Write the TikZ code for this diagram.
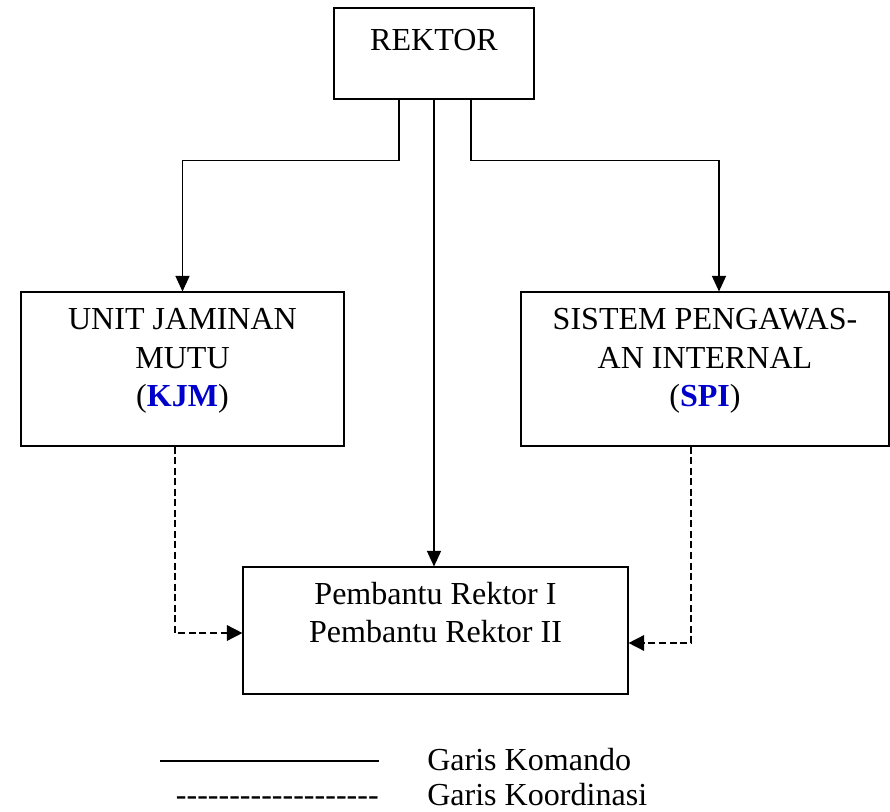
\documentclass[tikz,border=0pt]{standalone}
\usepackage{fontspec}
\setmainfont{Liberation Serif}
\usetikzlibrary{arrows.meta,calc}
\definecolor{singkatan}{RGB}{0,0,204}
\newcommand\sk[1]{\textbf{\color{singkatan}#1}}
\newcommand\garistanda{\foreach \i in {1,...,19}{\mbox{-}}}
\tikzset{
  kotak/.style={draw, line width=.8pt, inner sep=0pt},
  teks/.style={font=\fontsize{22.8}{27.3}\selectfont, align=center,
    inner sep=0pt, anchor=base},
  komando/.style={line width=.8pt, -{Triangle[length=11pt,width=10pt]}},
  koordinasi/.style={line width=1.1pt, dash pattern=on 5pt off 2.5pt,
    -{Triangle[length=11pt,width=11pt]}}
}
\begin{document}
\begin{tikzpicture}
  \useasboundingbox (0,0) rectangle (22.25,-20.3);

  \node[kotak, minimum width=5cm, minimum height=2.275cm]
    at (10.85,-1.3375) (rektor) {};
  \node[teks] at ([yshift=-1.075cm]rektor.north) (rektortxt) {REKTOR};

  \node[kotak, minimum width=8.075cm, minimum height=3.85cm]
    at (4.5625,-9.225) (ujm) {};
  \node[teks] at ([yshift=-2.875cm]ujm.north) (ujmtxt)
    {UNIT JAMINAN\\MUTU\\(\sk{KJM})};

  \node[kotak, minimum width=9.2cm, minimum height=3.85cm]
    at (17.625,-9.225) (spi) {};
  \node[teks] at ([yshift=-2.875cm]spi.north) (spitxt)
    {SISTEM PENGAWAS-\\AN INTERNAL\\(\sk{SPI})};

  \node[kotak, minimum width=9.625cm, minimum height=3.175cm]
    at (10.8875,-15.7625) (pr) {};
  \node[teks] at ([yshift=-1.9cm]pr.north) (prtxt)
    {Pembantu Rektor I\\Pembantu Rektor II};

  % garis komando
  \draw[komando] ([xshift=-.875cm]rektor.south) -- ++(0,-1.525) -| (ujm.north);
  \draw[komando] ([xshift=.925cm]rektor.south) -- ++(0,-1.525)
    -| ([xshift=.35cm]spi.north);
  \draw[komando] (rektor.south) -- (rektor.south |- pr.north);

  % garis koordinasi
  \draw[koordinasi] ([xshift=-.1875cm]ujm.south) |- ([yshift=-.0625cm]pr.west);
  \draw[koordinasi] ([xshift=-.35cm]spi.south) |- ([yshift=-.3125cm]pr.east);

  % keterangan
  \coordinate (kom1) at (4.0,-19.025);
  \coordinate (kom2) at (9.475,-19.025);
  \draw[line width=.8pt] (kom1) -- (kom2);
  \node[teks, anchor=base west] at (10.675,-19.25) (komtxt) {Garis Komando};
  \node[teks, anchor=base east] at (9.475,-20.125) (koortanda) {\garistanda};
  \node[teks, anchor=base west] at (10.675,-20.125) (koortxt) {Garis Koordinasi};

\end{tikzpicture}
\end{document}
